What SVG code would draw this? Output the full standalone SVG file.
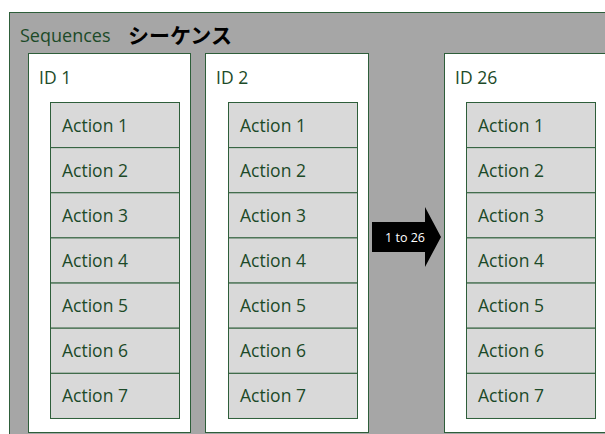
<svg xmlns="http://www.w3.org/2000/svg" width="605" height="434" viewBox="0 0 605 434">
<style>
.outer{fill:#a6a6a6;stroke:#2e5e3a;stroke-width:1}
.card{fill:#ffffff;stroke:#2e5e3a;stroke-width:1}
.act{fill:#d9d9d9;stroke:#2e5e3a;stroke-width:1}
.t{font-family:"Open Sans","Liberation Sans",sans-serif;font-size:17.5px;fill:#1c4a28}
.jp{font-family:"Noto Sans CJK JP",sans-serif;font-size:21px;font-weight:bold;fill:#000}
.w{font-family:"Open Sans","Liberation Sans",sans-serif;font-size:12.5px;fill:#fff}
</style>
<rect x="0" y="0" width="605" height="434" fill="#fff"/>
<g id="sequences">
<rect class="outer" x="9.5" y="12.5" width="640" height="460"/>
<text class="t" x="20" y="42" style="font-size:18px">Sequences</text>
<text class="jp" x="128" y="43">シーケンス</text>
</g>
<g id="id1">
<rect class="card" x="28.5" y="53.5" width="162" height="379"/>
<text class="t" x="39" y="84">ID 1</text>
<g id="id1-actions">
<rect class="act" x="50.5" y="102.5" width="129" height="45.14"/>
<rect class="act" x="50.5" y="147.64" width="129" height="45.14"/>
<rect class="act" x="50.5" y="192.78" width="129" height="45.14"/>
<rect class="act" x="50.5" y="237.92" width="129" height="45.14"/>
<rect class="act" x="50.5" y="283.06" width="129" height="45.14"/>
<rect class="act" x="50.5" y="328.2" width="129" height="45.14"/>
<rect class="act" x="50.5" y="373.34" width="129" height="45.14"/>
<text class="t" x="62" y="131.5">Action 1</text>
<text class="t" x="62" y="176.6">Action 2</text>
<text class="t" x="62" y="221.8">Action 3</text>
<text class="t" x="62" y="266.9">Action 4</text>
<text class="t" x="62" y="312.1">Action 5</text>
<text class="t" x="62" y="357.2">Action 6</text>
<text class="t" x="62" y="402.3">Action 7</text>
</g>
</g>
<g id="id2">
<rect class="card" x="205.5" y="53.5" width="163" height="379"/>
<text class="t" x="216" y="84">ID 2</text>
<g id="id2-actions">
<rect class="act" x="228.5" y="102.5" width="129" height="45.14"/>
<rect class="act" x="228.5" y="147.64" width="129" height="45.14"/>
<rect class="act" x="228.5" y="192.78" width="129" height="45.14"/>
<rect class="act" x="228.5" y="237.92" width="129" height="45.14"/>
<rect class="act" x="228.5" y="283.06" width="129" height="45.14"/>
<rect class="act" x="228.5" y="328.2" width="129" height="45.14"/>
<rect class="act" x="228.5" y="373.34" width="129" height="45.14"/>
<text class="t" x="240" y="131.5">Action 1</text>
<text class="t" x="240" y="176.6">Action 2</text>
<text class="t" x="240" y="221.8">Action 3</text>
<text class="t" x="240" y="266.9">Action 4</text>
<text class="t" x="240" y="312.1">Action 5</text>
<text class="t" x="240" y="357.2">Action 6</text>
<text class="t" x="240" y="402.3">Action 7</text>
</g>
</g>
<g id="id26">
<rect class="card" x="444.5" y="53.5" width="200" height="379"/>
<text class="t" x="455" y="84">ID 26</text>
<g id="id26-actions">
<rect class="act" x="466.5" y="102.5" width="129" height="45.14"/>
<rect class="act" x="466.5" y="147.64" width="129" height="45.14"/>
<rect class="act" x="466.5" y="192.78" width="129" height="45.14"/>
<rect class="act" x="466.5" y="237.92" width="129" height="45.14"/>
<rect class="act" x="466.5" y="283.06" width="129" height="45.14"/>
<rect class="act" x="466.5" y="328.2" width="129" height="45.14"/>
<rect class="act" x="466.5" y="373.34" width="129" height="45.14"/>
<text class="t" x="478" y="131.5">Action 1</text>
<text class="t" x="478" y="176.6">Action 2</text>
<text class="t" x="478" y="221.8">Action 3</text>
<text class="t" x="478" y="266.9">Action 4</text>
<text class="t" x="478" y="312.1">Action 5</text>
<text class="t" x="478" y="357.2">Action 6</text>
<text class="t" x="478" y="402.3">Action 7</text>
</g>
</g>
<g id="connectors">
<polygon points="372,222 425,222 425,207 441,237 425,267 425,252 372,252" fill="#000"/>
<text class="w" x="405" y="242" text-anchor="middle">1 to 26</text>
</g>
</svg>
